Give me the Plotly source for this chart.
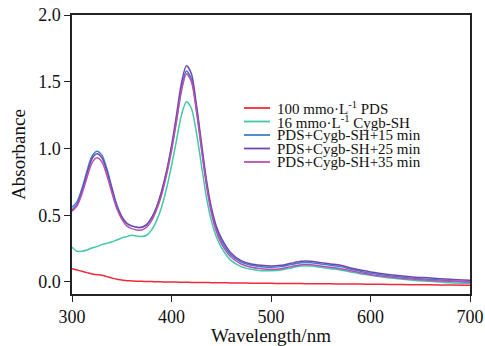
import plotly.graph_objects as go

wavelength = [300,305,310,315,320,325,330,335,340,345,350,355,360,365,370,375,380,385,390,395,
              400,405,410,415,420,425,430,435,440,445,450,460,470,480,490,500,510,520,530,540,
              550,560,570,580,590,600,620,640,660,680,700]

pds = [0.10,0.09,0.08,0.07,0.06,0.055,0.05,0.04,0.03,0.02,0.015,0.01,0.008,0.006,0.005,0.004,0.003,0.002,0.001,0.0,
       0.0,-0.001,-0.002,-0.002,-0.003,-0.003,-0.004,-0.004,-0.005,-0.005,-0.006,-0.007,-0.008,-0.009,-0.010,-0.010,-0.011,-0.012,-0.012,-0.013,
       -0.014,-0.014,-0.015,-0.016,-0.016,-0.017,-0.018,-0.020,-0.021,-0.023,-0.025]

cygb = [0.26,0.23,0.23,0.24,0.255,0.265,0.28,0.29,0.30,0.315,0.33,0.34,0.35,0.345,0.34,0.35,0.39,0.46,0.56,0.70,
        0.87,1.06,1.25,1.35,1.30,1.12,0.88,0.64,0.46,0.34,0.26,0.16,0.115,0.095,0.085,0.085,0.09,0.105,0.12,0.12,
        0.11,0.10,0.09,0.075,0.06,0.05,0.03,0.015,0.005,-0.005,-0.01]

mix15 = [0.56,0.60,0.70,0.83,0.94,0.98,0.95,0.85,0.71,0.58,0.49,0.44,0.42,0.41,0.41,0.43,0.48,0.56,0.67,0.82,
         1.00,1.22,1.45,1.58,1.52,1.30,1.02,0.75,0.54,0.40,0.31,0.20,0.15,0.125,0.115,0.11,0.115,0.13,0.145,0.145,
         0.135,0.125,0.115,0.095,0.08,0.065,0.045,0.03,0.02,0.01,0.0]

mix25 = [0.54,0.58,0.68,0.81,0.92,0.96,0.93,0.83,0.70,0.57,0.49,0.44,0.42,0.41,0.41,0.43,0.48,0.56,0.68,0.83,
         1.02,1.25,1.49,1.62,1.56,1.33,1.05,0.77,0.56,0.42,0.33,0.215,0.16,0.135,0.125,0.12,0.125,0.14,0.155,0.155,
         0.145,0.135,0.125,0.105,0.09,0.075,0.055,0.04,0.03,0.02,0.013]

mix35 = [0.53,0.57,0.66,0.78,0.89,0.93,0.90,0.80,0.67,0.55,0.47,0.42,0.40,0.39,0.39,0.41,0.46,0.54,0.65,0.80,
         0.98,1.20,1.43,1.56,1.50,1.28,1.00,0.73,0.52,0.38,0.29,0.185,0.135,0.11,0.10,0.095,0.10,0.115,0.13,0.13,
         0.12,0.11,0.10,0.085,0.07,0.055,0.037,0.022,0.012,0.005,0.0]

names = ["100 mmo·L<sup>-1</sup> PDS", "16 mmo·L<sup>-1</sup> Cygb-SH",
         "PDS+Cygb-SH+15 min", "PDS+Cygb-SH+25 min", "PDS+Cygb-SH+35 min"]
series = [pds, cygb, mix15, mix25, mix35]
colors = ["#f02a3a", "#40c8a8", "#3a80d0", "#7048b0", "#b850b0"]

fig = go.Figure()
for nm, ys, c in zip(names, series, colors):
    fig.add_trace(go.Scatter(x=wavelength, y=ys, mode="lines", name=nm,
                             line=dict(color=c, width=1.5, shape="spline", smoothing=0.8),
                             showlegend=False))

# manual compact legend (plot area: x 72..470 px, y 15..294 px)
def px_x(p):
    return (p - 72) / 398.0

def px_y(p):
    return (294 - p) / 279.0

leg_rows = [108, 121.5, 135, 148.5, 162]
for nm, c, yy in zip(names, colors, leg_rows):
    fig.add_shape(type="line", xref="paper", yref="paper", x0=px_x(244), x1=px_x(270),
                  y0=px_y(yy), y1=px_y(yy), line=dict(color=c, width=1.8))
    fig.add_annotation(xref="paper", yref="paper", x=px_x(276), y=px_y(yy), text=nm,
                       showarrow=False, xanchor="left", yanchor="middle",
                       borderpad=0, font=dict(family="Liberation Serif", size=15, color="#111"))

axis_common = dict(showline=True, linecolor="#222", linewidth=1.5, mirror=True,
                   ticks="outside", ticklen=6, tickwidth=1.2, tickcolor="#222",
                   showgrid=False, zeroline=False, automargin=False,
                   tickfont=dict(family="Liberation Serif", size=18, color="#111"))

fig.update_layout(
    width=485, height=346,
    margin=dict(l=72, r=15, t=15, b=52),
    paper_bgcolor="white", plot_bgcolor="white",
    xaxis=dict(range=[300, 700], tickvals=[300, 400, 500, 600, 700],
               title=dict(text="Wavelength/nm", standoff=2,
                          font=dict(family="Liberation Serif", size=19, color="#111")),
               **axis_common),
    yaxis=dict(range=[-0.09, 2.0], tickvals=[0, 0.5, 1.0, 1.5, 2.0], tickformat=".1f",
               title=dict(text="Absorbance", standoff=8,
                          font=dict(family="Liberation Serif", size=19, color="#111")),
               **axis_common),
)

fig.write_html("out.html", config={"displayModeBar": False},
               post_script="document.body.style.margin='0';document.body.style.overflow='hidden';")
